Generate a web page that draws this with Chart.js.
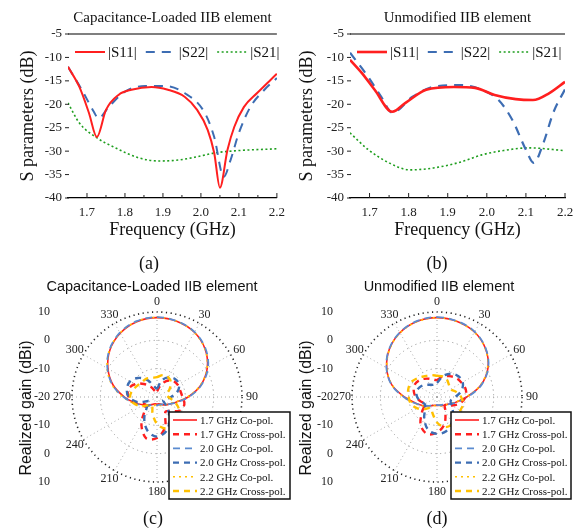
<!DOCTYPE html>
<html>
<head>
<meta charset="utf-8">
<script src="https://cdn.jsdelivr.net/npm/chart.js@4.4.0/dist/chart.umd.min.js"></script>
<style>
  body { margin: 0; background: #fff; }
  #wrap { position: relative; width: 584px; height: 530px; overflow: hidden; }
  #wrap canvas { position: absolute; }
  .cap { position: absolute; font: 18px 'Liberation Serif', serif; color: #111; transform: translate(-50%, -50%); }
</style>
</head>
<body>
<div id="wrap">
  <canvas id="chartA" width="292" height="250" style="left:0;top:0"></canvas>
  <canvas id="chartB" width="292" height="250" style="left:292px;top:0"></canvas>
  <canvas id="chartC" width="292" height="260" style="left:0;top:270px"></canvas>
  <canvas id="chartD" width="292" height="260" style="left:292px;top:270px"></canvas>
  <div class="cap" style="left:149px;top:263px">(a)</div>
  <div class="cap" style="left:437px;top:263px">(b)</div>
  <div class="cap" style="left:153px;top:518px">(c)</div>
  <div class="cap" style="left:437px;top:518px">(d)</div>
</div>
<script>
const SERIF = "'Liberation Serif', 'Times New Roman', serif";
const SANS = "'Liberation Sans', Arial, sans-serif";

// S parameters, frequency in GHz, level in dB
const freqTicks = [1.7, 1.8, 1.9, 2.0, 2.1, 2.2];
const minorFreqTicks = [1.75, 1.85, 1.95, 2.05, 2.15];
const dbTicks = [-40, -35, -30, -25, -20, -15, -10, -5];

const freqA_S11 = [1.65, 1.68, 1.705, 1.726, 1.75, 1.783, 1.817, 1.87, 1.913, 1.957, 1.99, 2.018, 2.035, 2.05, 2.07, 2.088, 2.113, 2.148, 2.2];
const dbA_S11 = [-12.0, -16.3, -21.8, -27.0, -21.2, -18.0, -16.9, -16.3, -16.9, -18.4, -21.2, -25.5, -30.4, -37.8, -29.7, -24.8, -20.6, -17.6, -13.5];
const freqA_S22 = [1.65, 1.687, 1.718, 1.73, 1.757, 1.8, 1.853, 1.905, 1.957, 2.01, 2.035, 2.06, 2.078, 2.1, 2.13, 2.166, 2.2];
const dbA_S22 = [-12.0, -17.0, -21.6, -23.0, -20.6, -17.3, -16.1, -16.1, -17.6, -21.8, -27.0, -35.5, -31.9, -26.1, -20.6, -17.0, -14.4];
const freqA_S21 = [1.65, 1.68, 1.723, 1.775, 1.835, 1.888, 1.94, 1.99, 2.035, 2.095, 2.2];
const dbA_S21 = [-19.7, -24.0, -27.0, -29.3, -31.4, -32.1, -31.9, -31.2, -30.4, -29.9, -29.5];

const freqB_S11 = [1.65, 1.68, 1.713, 1.758, 1.792, 1.845, 1.916, 1.97, 2.02, 2.074, 2.118, 2.16, 2.2];
const dbB_S11 = [-10.5, -13.3, -16.9, -21.6, -19.7, -16.9, -16.3, -16.5, -18.0, -18.9, -19.1, -17.6, -15.2];
const freqB_S22 = [1.65, 1.697, 1.73, 1.758, 1.81, 1.863, 1.934, 1.987, 2.03, 2.065, 2.1, 2.12, 2.145, 2.17, 2.2];
const dbB_S22 = [-9.0, -14.2, -18.4, -21.8, -18.4, -16.3, -15.9, -16.9, -19.1, -23.3, -29.7, -32.5, -28.2, -21.8, -16.8];
const freqB_S21 = [1.65, 1.697, 1.75, 1.803, 1.863, 1.934, 1.987, 2.04, 2.108, 2.2];
const dbB_S21 = [-26.1, -29.7, -32.5, -34.0, -33.6, -32.3, -30.8, -29.9, -29.3, -29.9];

// radiation patterns, realized gain in dBi every 15 degrees
const angleLabels = ['0', '15', '30', '45', '60', '75', '90', '105', '120', '135', '150', '165',
  '180', '195', '210', '225', '240', '255', '270', '285', '300', '315', '330', '345'];
const gainSideLabels = [10, 0, -10, -20, -10, 0, 10];
const patternNames = ['1.7 GHz Co-pol.', '1.7 GHz Cross-pol.', '2.0 GHz Co-pol.', '2.0 GHz Cross-pol.', '2.2 GHz Co-pol.', '2.2 GHz Cross-pol.'];

const coC17 = [8.0, 7.6, 6.4, 4.0, 0.5, -4.0, -9.0, -13.0, -15.0, -16.0, -17.0, -17.5, -17.5, -17.5, -17.0, -16.0, -14.5, -12.0, -8.5, -4.0, 0.0, 3.5, 6.0, 7.5];
const coC20 = [8.2, 7.7, 6.5, 4.2, 0.8, -3.8, -8.8, -12.8, -15.0, -16.2, -17.0, -17.2, -17.0, -17.2, -16.8, -15.8, -14.2, -11.8, -8.2, -3.8, 0.2, 3.7, 6.2, 7.7];
const coC22 = [8.1, 7.6, 6.3, 3.9, 0.4, -4.2, -9.2, -13.2, -15.2, -16.0, -16.5, -17.0, -17.5, -17.0, -16.5, -15.5, -14.0, -11.5, -8.0, -3.6, 0.3, 3.6, 6.1, 7.6];
const xC17 = [-18, -16, -13.5, -12, -11.5, -11.5, -11, -10, -10.5, -13, -14, -9, -5.5, -5, -9, -14, -15, -12, -10, -9.5, -11, -13.5, -16, -18];
const xC20 = [-17, -14, -12, -11, -11, -12.5, -15, -17, -17.5, -15, -11, -7.5, -6, -7.5, -11, -15, -17, -13, -10, -9, -9, -10.5, -13, -16];
const xC22 = [-13, -12, -12, -13, -15, -16.5, -16, -13.5, -11, -9.5, -8.5, -8.5, -10.5, -14, -16.5, -16, -13.5, -11.5, -10.5, -11, -12, -12.5, -12.5, -13];

const coD17 = [8.0, 7.6, 6.5, 4.2, 0.8, -4.0, -9.5, -13.0, -15.0, -16.0, -16.5, -17.0, -17.0, -17.0, -16.5, -15.5, -14.0, -12.0, -8.5, -3.5, 0.5, 3.8, 6.2, 7.6];
const coD20 = [8.2, 7.7, 6.6, 4.3, 0.9, -3.8, -9.2, -12.8, -15.0, -16.2, -16.8, -17.0, -17.2, -17.0, -16.6, -15.6, -14.2, -11.8, -8.3, -3.4, 0.6, 3.9, 6.3, 7.7];
const coD22 = [8.0, 7.5, 6.4, 4.1, 0.6, -4.2, -9.6, -13.2, -15.2, -16.0, -16.4, -16.8, -17.0, -16.8, -16.4, -15.4, -13.8, -11.6, -8.2, -3.6, 0.4, 3.7, 6.1, 7.5];
const xD17 = [-14, -12.5, -11.5, -10.5, -10, -9.5, -10, -11.5, -14, -16, -14, -10, -7.5, -6.5, -8.5, -12.5, -15, -14, -12.5, -11.5, -11, -11.5, -12.5, -13.5];
const xD20 = [-15, -12.5, -10.5, -9.5, -9.5, -11, -13.5, -15, -14, -12, -9.5, -7.5, -7, -8, -11, -14, -15, -14, -13, -12.5, -13, -14, -15, -15.5];
const xD22 = [-12.5, -12.5, -13, -14, -14.5, -13, -11.5, -10.5, -10.5, -10, -9, -9, -11, -14, -15.5, -14, -12, -10.5, -10, -9.5, -9.5, -10.5, -11.5, -12];

const RED = '#ff1f1f';
const BLUE = '#3d6db3';
const LIGHTBLUE = '#5b8bd0';
const GREEN = '#1e9e1e';
const YELLOW = '#ffc000';

const pts = (xs, ys) => xs.map((x, i) => ({x, y: ys[i]}));

const sFrame = {
  id: 'sFrame',
  afterDraw(chart, args, o) {
    const {ctx, chartArea: a, scales: {x, y}} = chart;
    ctx.save();
    ctx.fillStyle = '#111';
    ctx.font = `15px ${SERIF}`;
    ctx.textAlign = 'center';
    ctx.textBaseline = 'middle';
    ctx.fillText(o.title, (a.left + a.right) / 2, 18);

    ctx.strokeStyle = '#000';
    ctx.lineWidth = 1.2;
    ctx.beginPath();
    ctx.moveTo(a.left, a.top);
    ctx.lineTo(a.right, a.top);
    ctx.stroke();

    ctx.lineWidth = 1;
    ctx.strokeStyle = '#222';
    ctx.beginPath();
    freqTicks.forEach(v => { const px = x.getPixelForValue(v); ctx.moveTo(px, a.bottom); ctx.lineTo(px, a.bottom - 5); });
    minorFreqTicks.forEach(v => { const px = x.getPixelForValue(v); ctx.moveTo(px, a.bottom); ctx.lineTo(px, a.bottom - 3); });
    dbTicks.forEach(v => { const py = y.getPixelForValue(v); ctx.moveTo(a.left - 3, py); ctx.lineTo(a.left + 1, py); });
    ctx.stroke();

    // legend inside the plot, along the top
    let lx = a.left + 7;
    const ly = a.top + 18;
    ctx.font = `15px ${SERIF}`;
    ctx.textAlign = 'left';
    chart.data.datasets.forEach(ds => {
      ctx.strokeStyle = ds.borderColor;
      ctx.lineWidth = ds.borderWidth;
      ctx.setLineDash(ds.borderDash || []);
      ctx.beginPath();
      ctx.moveTo(lx, ly);
      ctx.lineTo(lx + 30, ly);
      ctx.stroke();
      ctx.setLineDash([]);
      lx += 33;
      ctx.fillStyle = '#111';
      ctx.fillText(ds.label, lx, ly + 1);
      lx += ctx.measureText(ds.label).width + 9;
    });
    ctx.restore();
  }
};

function sparamChart(id, title, series, lay) {
  const tickFont = {family: SERIF, size: 13};
  return new Chart(document.getElementById(id), {
    type: 'line',
    data: {
      datasets: series.map(s => ({
        label: s.label,
        data: s.data,
        borderColor: s.color,
        borderWidth: s.width,
        borderDash: s.dash,
        pointRadius: 0,
        fill: false,
        cubicInterpolationMode: 'monotone'
      }))
    },
    options: {
      responsive: false,
      animation: false,
      devicePixelRatio: 1,
      layout: {padding: {left: 0, right: lay.right, top: 34, bottom: 0}},
      plugins: {
        legend: {display: false},
        tooltip: {enabled: false},
        sFrame: {title}
      },
      scales: {
        x: {
          type: 'linear',
          min: 1.65,
          max: 2.2,
          afterBuildTicks: ax => { ax.ticks = freqTicks.map(v => ({value: v})); },
          afterFit: ax => { ax.height = 52; },
          ticks: {callback: v => v.toFixed(1), font: tickFont, color: '#222', padding: 7, maxRotation: 0},
          grid: {display: false, drawTicks: false},
          border: {display: true, color: '#000', width: 1.2},
          title: {display: true, text: 'Frequency (GHz)', font: {family: SERIF, size: 18}, color: '#111', padding: {top: 0, bottom: 9}}
        },
        y: {
          min: -40,
          max: -5,
          afterBuildTicks: ax => { ax.ticks = dbTicks.map(v => ({value: v})); },
          afterFit: ax => { ax.width = lay.yWidth; },
          ticks: {font: tickFont, color: '#222', padding: 6},
          grid: {display: false, drawTicks: false},
          border: {display: false},
          title: {display: true, text: 'S parameters (dB)', font: {family: SERIF, size: 18}, color: '#111', padding: {top: lay.titlePad, bottom: 0}}
        }
      }
    },
    plugins: [sFrame]
  });
}

sparamChart('chartA', 'Capacitance-Loaded IIB element', [
  {label: '|S11|', data: pts(freqA_S11, dbA_S11), color: RED, width: 2, dash: []},
  {label: '|S22|', data: pts(freqA_S22, dbA_S22), color: BLUE, width: 2, dash: [9, 7]},
  {label: '|S21|', data: pts(freqA_S21, dbA_S21), color: GREEN, width: 1.6, dash: [2, 2.5]}
], {right: 10, yWidth: 68, titlePad: 17});

sparamChart('chartB', 'Unmodified IIB element', [
  {label: '|S11|', data: pts(freqB_S11, dbB_S11), color: RED, width: 2.6, dash: []},
  {label: '|S22|', data: pts(freqB_S22, dbB_S22), color: BLUE, width: 2.2, dash: [9, 7]},
  {label: '|S21|', data: pts(freqB_S21, dbB_S21), color: GREEN, width: 1.6, dash: [2, 2.5]}
], {right: 19, yWidth: 58, titlePad: 4});

const polarDeco = {
  id: 'polarDeco',
  beforeDatasetsDraw(chart, args, o) {
    const {ctx} = chart;
    const r = chart.scales.r;
    ctx.save();
    ctx.fillStyle = '#222';
    ctx.font = `12px ${SERIF}`;
    ctx.textAlign = 'center';
    ctx.textBaseline = 'middle';
    chart.data.labels.forEach((lab, i) => {
      if (Number(lab) % 30) return;
      const p = r.getPointPosition(i, r.drawingArea + 10);
      ctx.fillText(lab, p.x, p.y);
    });

    ctx.textAlign = 'right';
    gainSideLabels.forEach((v, k) => {
      const d = r.getDistanceFromCenterForValue(v);
      const side = k < 3 ? -1 : (k > 3 ? 1 : 0);
      ctx.fillText(String(v), r.xCenter - o.sideX, r.yCenter + side * d);
    });

    ctx.fillStyle = '#111';
    ctx.textAlign = 'center';
    ctx.font = `14.5px ${SANS}`;
    ctx.fillText(o.title, o.titleX, 17);

    ctx.font = `16px ${SANS}`;
    ctx.translate(o.yTitleX, r.yCenter + 11);
    ctx.rotate(-Math.PI / 2);
    ctx.fillText('Realized gain (dBi)', 0, 0);
    ctx.restore();
  },
  afterDatasetsDraw(chart, args, o) {
    const {ctx} = chart;
    const r = chart.scales.r;
    const bx = r.xCenter + o.boxDx;
    const by = r.yCenter + 15;
    const bw = o.boxW;
    const bh = 87;
    ctx.save();
    ctx.fillStyle = '#fff';
    ctx.fillRect(bx, by, bw, bh);
    ctx.strokeStyle = '#111';
    ctx.lineWidth = 1.5;
    ctx.strokeRect(bx, by, bw, bh);
    ctx.font = `11px ${SERIF}`;
    ctx.textAlign = 'left';
    ctx.textBaseline = 'middle';
    chart.data.datasets.forEach((ds, i) => {
      const yy = by + 8 + i * 14.2;
      ctx.strokeStyle = ds.borderColor;
      ctx.lineWidth = ds.borderWidth;
      ctx.setLineDash(ds.borderDash || []);
      ctx.beginPath();
      ctx.moveTo(bx + 4, yy);
      ctx.lineTo(bx + 28, yy);
      ctx.stroke();
      ctx.setLineDash([]);
      ctx.fillStyle = '#111';
      ctx.fillText(ds.label, bx + 31, yy + 1);
    });
    ctx.restore();
  }
};

function patternChart(id, sets, lay) {
  // order: larger values are drawn first, so the dashed co-pol traces sit on the solid red one
  const styles = [
    {color: RED, width: 1.6, dash: [], order: 6},
    {color: RED, width: 2.4, dash: [6, 5], order: 3},
    {color: LIGHTBLUE, width: 1.8, dash: [7, 5], order: 4},
    {color: BLUE, width: 2.4, dash: [6, 5], order: 2},
    {color: YELLOW, width: 1.6, dash: [2, 4], order: 5},
    {color: YELLOW, width: 2.4, dash: [6, 5], order: 1}
  ];
  return new Chart(document.getElementById(id), {
    type: 'radar',
    data: {
      labels: angleLabels,
      datasets: sets.map((vals, i) => ({
        label: patternNames[i],
        data: vals,
        borderColor: styles[i].color,
        borderWidth: styles[i].width,
        borderDash: styles[i].dash,
        order: styles[i].order,
        pointRadius: 0,
        fill: false,
        tension: 0.35
      }))
    },
    options: {
      responsive: false,
      animation: false,
      devicePixelRatio: 1,
      layout: {padding: lay.pad},
      plugins: {
        legend: {display: false},
        tooltip: {enabled: false},
        polarDeco: lay.deco
      },
      scales: {
        r: {
          min: -20,
          max: 10,
          ticks: {stepSize: 10, display: false},
          pointLabels: {display: false},
          grid: {
            circular: true,
            color: c => (c.tick && c.tick.value === 10 ? '#222' : '#9a9a9a'),
            lineWidth: c => (c.tick && c.tick.value === 10 ? 1.6 : 1)
          },
          border: {dash: [1.2, 3.5]},
          angleLines: {
            color: '#a8a8a8',
            lineWidth: c => (c.index % 2 ? 0 : 1),
            borderDash: [1, 3]
          }
        }
      }
    },
    plugins: [polarDeco]
  });
}

patternChart('chartC', [coC17, xC17, coC20, xC20, coC22, xC22], {
  pad: {left: 72, top: 42, right: 50, bottom: 48},
  deco: {title: 'Capacitance-Loaded IIB element', titleX: 152, sideX: 107, yTitleX: 27, boxDx: 12, boxW: 121}
});

patternChart('chartD', [coD17, xD17, coD20, xD20, coD22, xD22], {
  pad: {left: 60, top: 42, right: 62, bottom: 48},
  deco: {title: 'Unmodified IIB element', titleX: 147, sideX: 104, yTitleX: 15, boxDx: 14, boxW: 120}
});
</script>
</body>
</html>
